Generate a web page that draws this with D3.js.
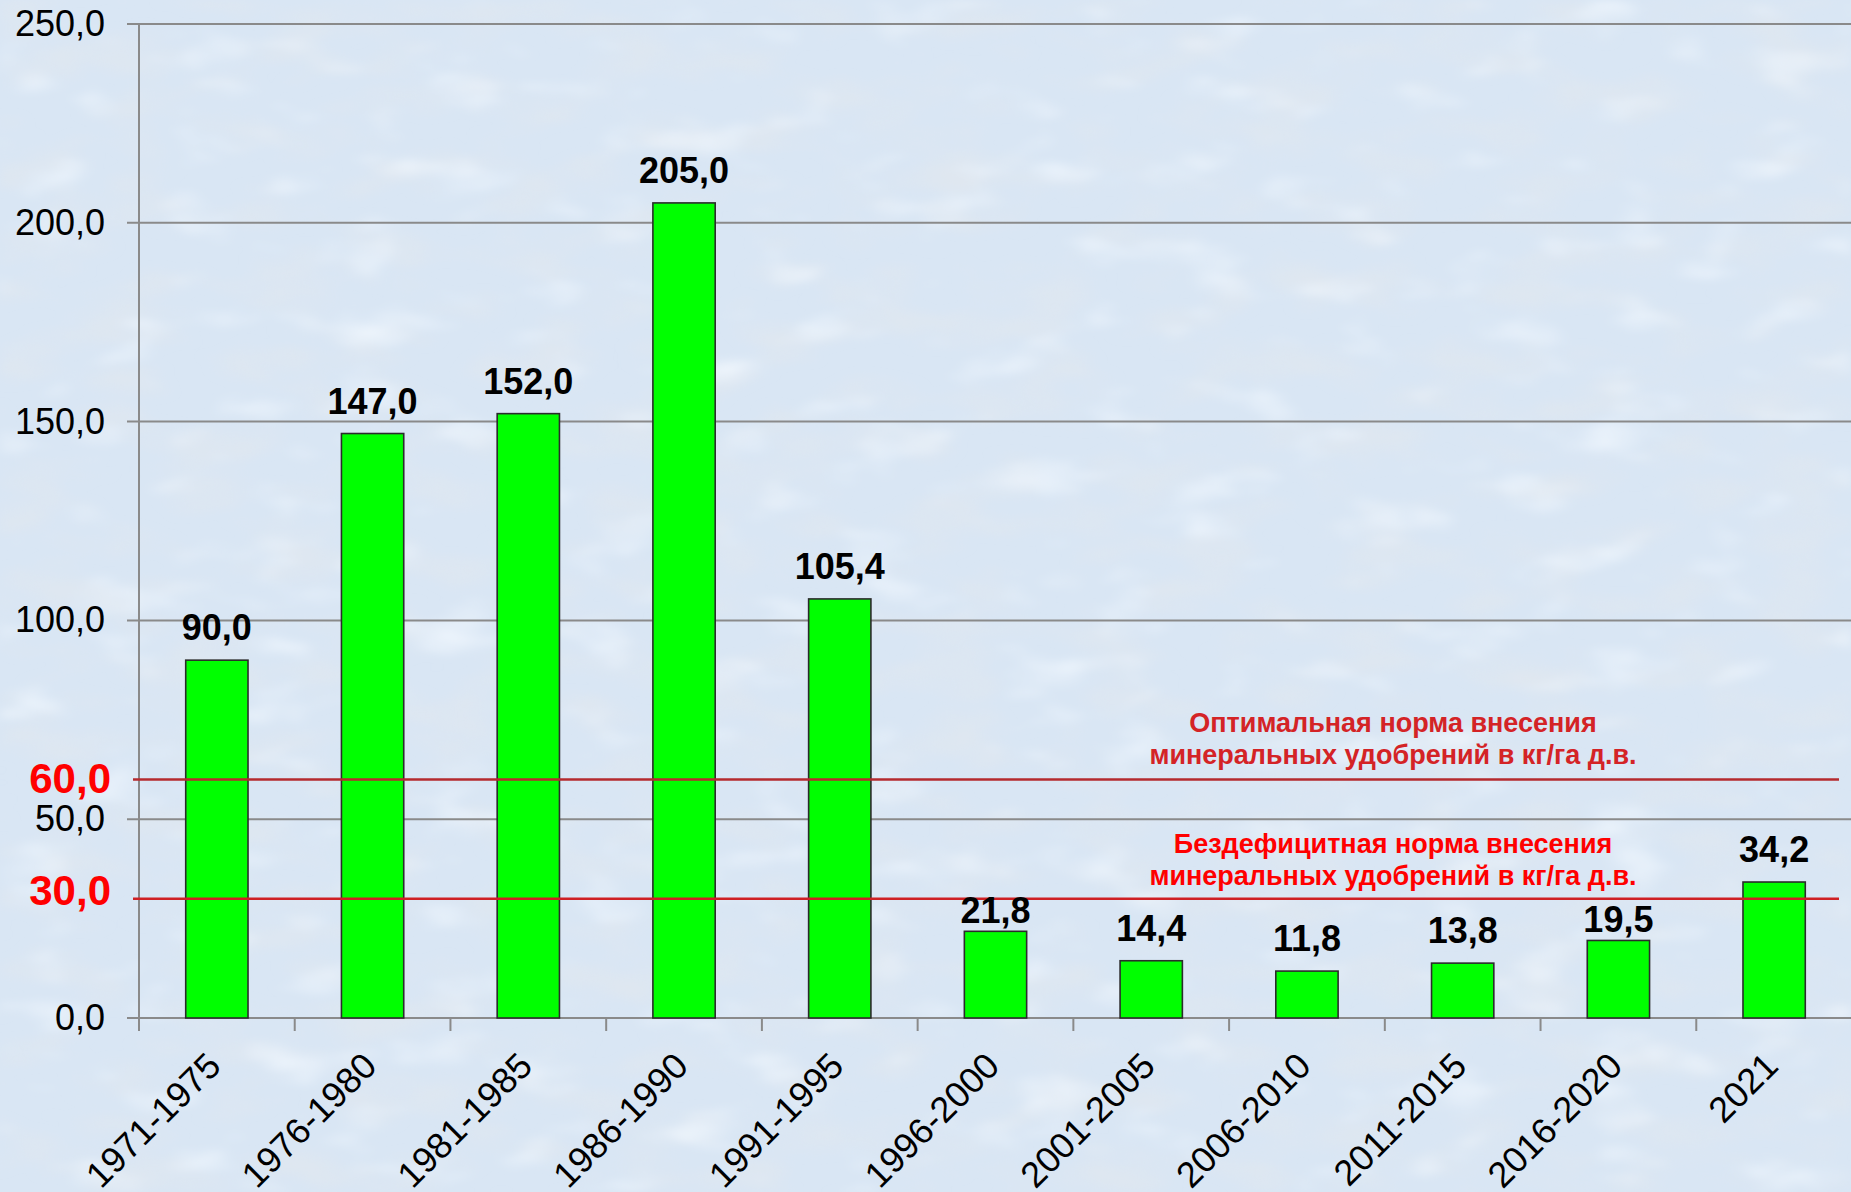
<!DOCTYPE html>
<html>
<head>
<meta charset="utf-8">
<script src="https://cdn.jsdelivr.net/npm/d3@7/dist/d3.min.js"></script>
<style>
  html, body { margin: 0; padding: 0; background: #dae7f5; }
  svg { display: block; }
  text { font-family: "Liberation Sans", Arial, sans-serif; }
</style>
</head>
<body>
<svg id="chart" width="1851" height="1192"></svg>
<script>
// Mineral fertiliser application, kg/ha of active substance, by period
const categories = ["1971-1975", "1976-1980", "1981-1985", "1986-1990", "1991-1995",
                    "1996-2000", "2001-2005", "2006-2010", "2011-2015", "2016-2020", "2021"];
const values = [90.0, 147.0, 152.0, 205.0, 105.4, 21.8, 14.4, 11.8, 13.8, 19.5, 34.2];
const yTicks = [0, 50, 100, 150, 200, 250];

// Reference norms drawn as horizontal lines
const normValues = [60, 30];
const normTexts = [
  ["Оптимальная норма внесения", "минеральных удобрений в кг/га д.в."],
  ["Бездефицитная норма внесения", "минеральных удобрений в кг/га д.в."]
];

const W = 1851, H = 1192;
const svg = d3.select("#chart");

// Soft mottled backdrop
const defs = svg.append("defs");
const f = defs.append("filter").attr("id", "mottle")
  .attr("x", 0).attr("y", 0).attr("width", W).attr("height", H)
  .attr("filterUnits", "userSpaceOnUse");
f.append("feTurbulence").attr("type", "fractalNoise")
  .attr("baseFrequency", "0.012 0.026").attr("numOctaves", 3).attr("seed", 11).attr("result", "n");
f.append("feColorMatrix").attr("in", "n").attr("type", "matrix")
  .attr("values", "0 0 0 0 0.74  0 0 0 0 0.80  0 0 0 0 0.87  2.2 0 0 0 -1.0")
  .attr("result", "dark");
f.append("feColorMatrix").attr("in", "n").attr("type", "matrix")
  .attr("values", "0 0 0 0 0.90  0 0 0 0 0.95  0 0 0 0 1.0  0 -2.0 0 0 0.85")
  .attr("result", "light");
f.append("feMerge").attr("result", "m").call(m => {
  m.append("feMergeNode").attr("in", "dark");
  m.append("feMergeNode").attr("in", "light");
});
f.append("feGaussianBlur").attr("in", "m").attr("stdDeviation", "6 3");
svg.append("rect").attr("width", W).attr("height", H).attr("fill", "#d9e6f4");
svg.append("rect").attr("width", W).attr("height", H).attr("filter", "url(#mottle)");

// Scales
const x = d3.scaleBand().domain(categories).range([139, 1852]).padding(0);
const y = d3.scaleLinear().domain([0, 250]).range([1018, 24]);
const fmt = v => d3.format(".1f")(v).replace(".", ",");
const barW = x.bandwidth() * 0.4;

// Horizontal grid lines with outward tick stubs
svg.append("g").selectAll("line").data(yTicks).join("line")
  .attr("x1", 127).attr("x2", W)
  .attr("y1", d => y(d)).attr("y2", d => y(d))
  .attr("stroke", "#8a8a8a").attr("stroke-width", 2);

// Vertical axis line
svg.append("line").attr("x1", 139).attr("x2", 139)
  .attr("y1", y(250)).attr("y2", y(0))
  .attr("stroke", "#8a8a8a").attr("stroke-width", 2);

// Category ticks at band boundaries
const boundaries = categories.map(c => x(c));
svg.append("g").selectAll("line").data(boundaries).join("line")
  .attr("x1", d => d).attr("x2", d => d)
  .attr("y1", y(0)).attr("y2", y(0) + 13)
  .attr("stroke", "#8a8a8a").attr("stroke-width", 2);

// Y tick labels
svg.append("g").selectAll("text").data(yTicks).join("text")
  .attr("x", 105).attr("y", d => y(d) + 12)
  .attr("text-anchor", "end").attr("font-size", 36).attr("fill", "#000")
  .text(d => fmt(d));

// Bars
svg.append("g").selectAll("rect").data(values).join("rect")
  .attr("x", (d, i) => x(categories[i]) + (x.bandwidth() - barW) / 2)
  .attr("y", d => y(d))
  .attr("width", barW)
  .attr("height", d => y(0) - y(d))
  .attr("fill", "#00ff00").attr("stroke", "#2b2b2b").attr("stroke-width", 1.6);

// Reference lines
const lineColors = ["#b52a2e", "#cf2024"];
svg.append("g").selectAll("line").data(normValues).join("line")
  .attr("x1", 133).attr("x2", 1839)
  .attr("y1", d => y(d)).attr("y2", d => y(d))
  .attr("stroke", (d, i) => lineColors[i]).attr("stroke-width", 2.6);

// Reference values on the axis
const normLabelDy = [14, 6];
svg.append("g").selectAll("text").data(normValues).join("text")
  .attr("x", 111).attr("y", (d, i) => y(d) + normLabelDy[i])
  .attr("text-anchor", "end").attr("font-size", 42).attr("font-weight", "bold")
  .attr("fill", "#ff0000")
  .text(d => fmt(d));

// Reference captions
const captionColors = ["#d42326", "#ff0000"];
const captionBase = [732, 853];
normTexts.forEach((lines, i) => {
  svg.append("text")
    .attr("x", 1393).attr("y", captionBase[i])
    .attr("text-anchor", "middle").attr("font-size", 27).attr("font-weight", "bold")
    .attr("fill", captionColors[i])
    .selectAll("tspan").data(lines).join("tspan")
    .attr("x", 1393).attr("dy", (d, j) => j === 0 ? 0 : 32)
    .text(d => d);
});

// Value labels; ones that would cross the lower reference line sit closer to the bar
const yLow = y(normValues[1]);
svg.append("g").selectAll("text").data(values).join("text")
  .attr("x", (d, i) => x(categories[i]) + x.bandwidth() / 2)
  .attr("y", d => {
    const base = y(d) - 20;
    const crosses = y(d) > yLow && base - 26 < yLow && base + 4 > yLow;
    return crosses ? y(d) - 8 : base;
  })
  .attr("text-anchor", "middle").attr("font-size", 36).attr("font-weight", "bold")
  .attr("fill", "#000")
  .text(d => fmt(d));

// Rotated category labels
svg.append("g").selectAll("text").data(categories).join("text")
  .attr("transform", d => `translate(${x(d) + x.bandwidth() / 2 + 6},1068) rotate(-45)`)
  .attr("text-anchor", "end").attr("font-size", 36).attr("fill", "#000")
  .text(d => d);
</script>
</body>
</html>
